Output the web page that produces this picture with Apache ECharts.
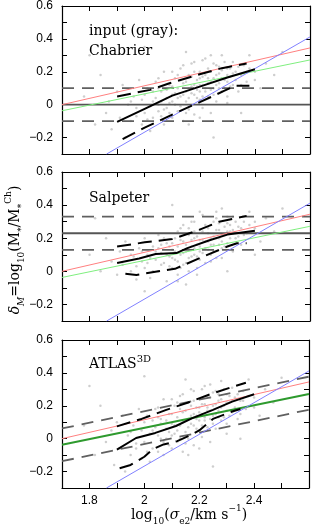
<!DOCTYPE html>
<html><head><meta charset="utf-8">
<script src="https://cdn.jsdelivr.net/npm/echarts@6/dist/echarts.min.js"></script>
<style>html,body{margin:0;padding:0;background:#fff}#c{width:312px;height:524px}</style>
</head><body><div id="c"></div>
<script>
// ---- axis ranges & tick labels ----
const xRange = [1.7, 2.6];
const yRange = [-0.3, 0.6];
const xTickLabels = ['1.8', '2', '2.2', '2.4'];
const yTickLabels = ['−0.2', '0', '0.2', '0.4', '0.6'];

// ---- model lines (same in all panels) ----
const redLine = [[1.7, 0.0], [2.6, 0.345]];
const greenLine = [[1.7, -0.037], [2.6, 0.272]];
const blueLine = [[1.862, -0.3], [2.6, 0.412]];

// ---- reference levels ----
const p1Levels = { solid: 0.0, dashed: [-0.1, 0.1] };
const p2Levels = { solid: 0.23, dashed: [0.13, 0.33] };
const p3DashUpper = [[1.7, 0.062], [2.6, 0.377]];
const p3DashLower = [[1.7, -0.137], [2.6, 0.176]];

// ---- panel 1: Chabrier ----
const p1Median = [[1.9,-0.105],[2.0,-0.025],[2.1,0.055],[2.2,0.11],[2.3,0.165],[2.4,0.215]];
const p1Upper = [[1.9,0.05],[2.02,0.09],[2.09,0.13],[2.2,0.185],[2.28,0.222],[2.37,0.25]];
const p1Lower = [[1.92,-0.21],[2.0,-0.14],[2.1,-0.06],[2.2,0.015],[2.29,0.085],[2.33,0.115],[2.38,0.115]];
const p1Points = [[1.78,0.05],[1.82,-0.12],[1.84,0.18],[1.86,-0.05],[1.87,0.02],[1.88,-0.15],[1.9,0.08],[1.91,-0.08],[1.92,0.12],[1.93,-0.2],[1.94,0.0],[1.95,-0.1],[1.96,0.05],[1.97,-0.02],[1.98,0.15],[1.99,-0.12],[2.0,0.06],[2.0,-0.05],[2.01,0.1],[2.02,-0.16],[2.03,0.02],[2.03,-0.08],[2.04,0.14],[2.05,0.0],[2.05,-0.04],[2.06,0.08],[2.07,-0.12],[2.07,0.2],[2.08,0.04],[2.08,-0.02],[2.09,0.12],[2.1,-0.08],[2.1,0.06],[2.11,0.16],[2.11,0.0],[2.12,0.1],[2.12,-0.04],[2.13,0.22],[2.13,0.05],[2.14,-0.1],[2.14,0.13],[2.15,0.08],[2.15,0.02],[2.16,0.18],[2.16,-0.03],[2.17,0.11],[2.17,0.25],[2.18,0.06],[2.18,-0.06],[2.19,0.15],[2.19,0.09],[2.2,0.2],[2.2,0.03],[2.2,0.12],[2.21,-0.02],[2.21,0.17],[2.22,0.08],[2.22,0.28],[2.23,0.13],[2.23,0.05],[2.24,0.2],[2.24,-0.05],[2.25,0.1],[2.25,0.16],[2.26,0.24],[2.26,0.02],[2.27,0.13],[2.27,0.19],[2.28,0.08],[2.28,0.3],[2.29,0.15],[2.3,0.22],[2.3,0.05],[2.31,0.17],[2.32,0.12],[2.32,0.26],[2.33,0.2],[2.34,0.08],[2.35,0.18],[2.36,0.24],[2.37,0.14],[2.38,0.3],[2.4,0.2],[2.42,0.1],[2.44,0.25],[2.47,0.18],[2.5,0.32],[1.8,0.3],[2.0,0.35],[2.25,-0.2],[2.15,0.32],[2.35,-0.05],
[2.02,-0.01],[2.04,0.04],[2.06,0.02],[2.06,-0.07],[2.08,0.09],[2.09,0.01],[2.1,0.11],[2.1,0.02],[2.11,0.07],[2.12,0.04],[2.13,0.15],[2.13,-0.01],[2.14,0.06],[2.15,0.14],[2.15,-0.05],[2.16,0.1],[2.16,0.04],[2.17,0.07],[2.17,0.17],[2.18,0.12],[2.18,0.2],[2.19,0.04],[2.19,0.11],[2.2,0.16],[2.2,0.08],[2.21,0.05],[2.21,0.12],[2.22,0.18],[2.22,0.1],[2.23,0.22],[2.23,0.16],[2.24,0.09],[2.24,0.14],[2.25,0.06],[2.25,0.25],[2.26,0.12],[2.26,0.18],[2.27,0.1],[2.27,0.23],[2.28,0.16],[2.28,0.21],[2.29,0.1],[2.29,0.26],[2.3,0.14],[2.3,0.18],[2.31,0.11],[2.31,0.22],[2.32,0.19],[2.33,0.15],[2.34,0.23],[2.35,0.12],[2.36,0.19],[2.38,0.22],[2.4,0.15],[1.95,0.02],[1.97,-0.07],[1.99,0.03],[2.01,-0.09],[2.03,0.08],[2.05,0.1],[2.07,-0.03],[2.09,-0.05],[2.12,0.18],[2.14,0.24],[2.18,0.26],[2.21,0.27],[2.24,0.3],[2.2,-0.08],[2.16,-0.12],[2.3,0.01],[2.1,0.2],[2.05,0.16]];

// ---- panel 2: Salpeter ----
const p2Median = [[1.9,0.05],[1.98,0.077],[2.04,0.105],[2.115,0.11],[2.155,0.14],[2.23,0.185],[2.3,0.222],[2.4,0.245]];
const p2Upper = [[1.9,0.15],[2.0,0.175],[2.1,0.195],[2.19,0.245],[2.27,0.3],[2.37,0.335]];
const p2Lower = [[1.93,-0.015],[1.97,-0.022],[2.05,0.0],[2.11,0.015],[2.2,0.08],[2.3,0.15],[2.335,0.17],[2.37,0.17]];
const p2Points = [[1.8,0.1],[1.84,0.0],[1.86,0.2],[1.88,0.06],[1.9,-0.02],[1.91,0.12],[1.92,0.04],[1.93,0.18],[1.95,0.0],[1.96,0.09],[1.97,-0.05],[1.98,0.14],[1.99,0.06],[2.0,0.2],[2.0,0.02],[2.01,0.1],[2.02,-0.04],[2.03,0.15],[2.04,0.07],[2.05,0.22],[2.05,0.0],[2.06,0.11],[2.07,0.05],[2.08,0.17],[2.08,-0.06],[2.09,0.09],[2.1,0.13],[2.1,0.02],[2.11,0.2],[2.11,0.07],[2.12,-0.02],[2.12,0.15],[2.13,0.1],[2.13,0.26],[2.14,0.04],[2.14,0.18],[2.15,0.12],[2.15,-0.08],[2.16,0.22],[2.16,0.08],[2.17,0.15],[2.17,0.3],[2.18,0.1],[2.18,0.2],[2.19,0.02],[2.19,0.16],[2.2,0.25],[2.2,0.12],[2.2,0.07],[2.21,0.19],[2.21,0.34],[2.22,0.14],[2.22,0.05],[2.23,0.23],[2.23,0.18],[2.24,0.1],[2.24,0.28],[2.25,0.16],[2.25,0.21],[2.26,0.08],[2.26,0.32],[2.27,0.2],[2.27,0.25],[2.28,0.14],[2.28,0.38],[2.29,0.22],[2.3,0.17],[2.3,0.29],[2.31,0.24],[2.32,0.12],[2.32,0.33],[2.33,0.2],[2.34,0.27],[2.35,0.16],[2.36,0.3],[2.37,0.23],[2.38,0.36],[2.4,0.26],[2.42,0.18],[2.44,0.32],[2.47,0.24],[2.5,0.38],[1.82,0.32],[2.0,-0.12],[2.3,0.0],[2.1,0.4],[2.4,0.1],
[2.02,0.08],[2.04,0.12],[2.06,0.04],[2.06,0.16],[2.08,0.1],[2.09,0.03],[2.1,0.17],[2.1,0.08],[2.11,0.12],[2.12,0.06],[2.13,0.19],[2.13,0.02],[2.14,0.11],[2.15,0.16],[2.15,0.05],[2.16,0.13],[2.16,0.26],[2.17,0.09],[2.17,0.19],[2.18,0.14],[2.18,0.24],[2.19,0.09],[2.19,0.21],[2.2,0.15],[2.2,0.19],[2.21,0.11],[2.21,0.24],[2.22,0.18],[2.22,0.28],[2.23,0.13],[2.23,0.26],[2.24,0.2],[2.24,0.16],[2.25,0.12],[2.25,0.3],[2.26,0.2],[2.26,0.25],[2.27,0.16],[2.27,0.29],[2.28,0.22],[2.28,0.18],[2.29,0.27],[2.29,0.15],[2.3,0.24],[2.3,0.33],[2.31,0.2],[2.31,0.28],[2.32,0.25],[2.33,0.3],[2.34,0.21],[2.35,0.26],[2.36,0.22],[2.38,0.28],[2.4,0.3],[1.95,0.1],[1.97,0.03],[1.99,0.12],[2.01,0.05],[2.03,0.0],[2.05,0.14],[2.07,0.2],[2.09,0.15],[2.12,0.24],[2.14,0.28],[2.18,0.3],[2.2,0.36],[2.24,0.06],[2.19,-0.02],[2.16,0.0],[2.28,0.08],[2.12,-0.06],[2.26,0.36]];

// ---- panel 3: ATLAS3D ----
const p3Median = [[1.9,-0.067],[1.97,0.004],[2.04,0.035],[2.115,0.077],[2.175,0.125],[2.25,0.175],[2.32,0.225],[2.4,0.27]];
const p3Upper = [[1.9,0.075],[1.99,0.12],[2.08,0.175],[2.16,0.22],[2.24,0.27],[2.33,0.32],[2.37,0.34]];
const p3Lower = [[1.91,-0.18],[1.95,-0.16],[2.0,-0.11],[2.03,-0.065],[2.07,-0.035],[2.12,-0.015],[2.16,0.015],[2.2,0.05],[2.25,0.12],[2.32,0.165],[2.35,0.18]];
const p3Points = [[1.78,0.08],[1.82,-0.1],[1.84,0.2],[1.86,-0.02],[1.88,0.05],[1.89,-0.16],[1.9,0.1],[1.91,-0.06],[1.92,0.14],[1.93,-0.2],[1.94,0.02],[1.95,-0.1],[1.96,0.08],[1.97,-0.03],[1.98,0.18],[1.99,-0.12],[2.0,0.1],[2.0,-0.02],[2.01,0.14],[2.02,-0.14],[2.03,0.05],[2.03,-0.06],[2.04,0.18],[2.05,0.02],[2.05,-0.08],[2.06,0.12],[2.07,-0.1],[2.07,0.24],[2.08,0.06],[2.08,0.0],[2.09,0.15],[2.1,-0.06],[2.1,0.09],[2.11,0.2],[2.11,0.03],[2.12,0.13],[2.12,-0.02],[2.13,0.26],[2.13,0.08],[2.14,-0.08],[2.14,0.16],[2.15,0.11],[2.15,0.04],[2.16,0.22],[2.16,0.0],[2.17,0.14],[2.17,0.3],[2.18,0.08],[2.18,-0.04],[2.19,0.19],[2.19,0.12],[2.2,0.24],[2.2,0.05],[2.2,0.16],[2.21,0.01],[2.21,0.21],[2.22,0.11],[2.22,0.32],[2.23,0.17],[2.23,0.07],[2.24,0.25],[2.24,-0.02],[2.25,0.14],[2.25,0.2],[2.26,0.29],[2.26,0.06],[2.27,0.17],[2.27,0.23],[2.28,0.11],[2.28,0.35],[2.29,0.2],[2.3,0.27],[2.3,0.09],[2.31,0.22],[2.32,0.16],[2.32,0.31],[2.33,0.25],[2.34,0.12],[2.35,0.23],[2.36,0.29],[2.37,0.18],[2.38,0.36],[2.4,0.25],[2.42,0.14],[2.44,0.3],[2.47,0.22],[2.5,0.37],[1.8,0.32],[2.0,0.38],[2.25,-0.17],[2.15,0.36],[2.35,0.0],
[2.02,0.03],[2.04,0.07],[2.06,0.0],[2.06,0.09],[2.08,0.11],[2.09,0.04],[2.1,0.15],[2.1,0.02],[2.11,0.08],[2.12,0.05],[2.13,0.18],[2.13,0.0],[2.14,0.1],[2.15,0.17],[2.15,-0.03],[2.16,0.12],[2.16,0.07],[2.17,0.09],[2.17,0.2],[2.18,0.15],[2.18,0.23],[2.19,0.06],[2.19,0.14],[2.2,0.19],[2.2,0.11],[2.21,0.08],[2.21,0.15],[2.22,0.21],[2.22,0.13],[2.23,0.26],[2.23,0.19],[2.24,0.12],[2.24,0.17],[2.25,0.09],[2.25,0.28],[2.26,0.15],[2.26,0.21],[2.27,0.13],[2.27,0.27],[2.28,0.19],[2.28,0.24],[2.29,0.13],[2.29,0.3],[2.3,0.17],[2.3,0.22],[2.31,0.14],[2.31,0.26],[2.32,0.23],[2.33,0.19],[2.34,0.27],[2.35,0.15],[2.36,0.23],[2.38,0.26],[2.4,0.19],[1.95,0.04],[1.97,-0.06],[1.99,0.05],[2.01,-0.08],[2.03,0.11],[2.05,0.13],[2.07,-0.02],[2.09,-0.04],[2.12,0.22],[2.14,0.27],[2.18,0.29],[2.21,0.3],[2.24,0.33],[2.2,-0.06],[2.16,-0.1],[2.3,0.03],[2.1,0.24],[2.05,0.19]];

// ---- build chart ----
const chart = echarts.init(document.getElementById('c'), null, {renderer: 'canvas'});
const gridTops = [5, 172, 340];
const gridHeights = [149, 149, 148];
const SERIF = 'DejaVu Serif';
const SANS = 'Liberation Sans';

function fmtNum(v) {
  const r = Math.round(v * 10) / 10;
  return r < 0 ? '−' + String(+(-r).toFixed(1)) : String(+r.toFixed(1));
}
const grid = [], xAxis = [], yAxis = [], series = [];
const tickStyle = {show: true, inside: true, length: 5, lineStyle: {color: '#000', width: 1}};
const lineAx = {show: true, onZero: false, lineStyle: {color: '#000', width: 1.2}};
gridTops.forEach((t, i) => {
  grid.push({left: 62, top: t, width: 248, height: gridHeights[i]});
  const xBase = {gridIndex: i, type: 'value', min: xRange[0], max: xRange[1], interval: 0.1,
    axisLine: lineAx, axisTick: tickStyle, splitLine: {show: false}};
  xAxis.push(Object.assign({}, xBase, {position: 'bottom', axisLabel: {show: i === 2, margin: 7, color: '#000',
    fontFamily: SANS, fontSize: 12, formatter: v => { const s = fmtNum(v); return xTickLabels.includes(s) ? s : ''; }}}));
  xAxis.push(Object.assign({}, xBase, {position: 'top', axisLabel: {show: false}}));
  const yBase = {gridIndex: i, type: 'value', min: yRange[0], max: yRange[1], interval: 0.1,
    axisLine: lineAx, axisTick: tickStyle, splitLine: {show: false}};
  yAxis.push(Object.assign({}, yBase, {position: 'left', axisLabel: {show: true, margin: 9, color: '#000',
    fontFamily: SANS, fontSize: 12, formatter: v => { const s = fmtNum(v); return yTickLabels.includes(s) ? s : ''; }}}));
  yAxis.push(Object.assign({}, yBase, {position: 'right', axisLabel: {show: false}}));
});

function ln(gi, data, color, width, type, z) {
  return {type: 'line', xAxisIndex: gi * 2, yAxisIndex: gi * 2, data, symbol: 'none', silent: true,
    animation: false, z, lineStyle: {color, width, type: type || 'solid', cap: 'butt'}};
}
function sc(gi, data) {
  return {type: 'scatter', xAxisIndex: gi * 2, yAxisIndex: gi * 2, data, symbolSize: 2.5, silent: true,
    animation: false, z: 1, itemStyle: {color: 'rgba(120,120,120,0.45)'}};
}
const hl = v => [[xRange[0], v], [xRange[1], v]];
const GRAYDASH = [12, 8];
const BLKDASH = [14, 7];

const panels = [
  {pts: p1Points, med: p1Median, up: p1Upper, lo: p1Lower, lev: p1Levels},
  {pts: p2Points, med: p2Median, up: p2Upper, lo: p2Lower, lev: p2Levels},
  {pts: p3Points, med: p3Median, up: p3Upper, lo: p3Lower, lev: null}
];
panels.forEach((p, i) => {
  series.push(sc(i, p.pts));
  if (p.lev) {
    series.push(ln(i, hl(p.lev.solid), '#555', 1.8, 'solid', 2));
    p.lev.dashed.forEach(v => series.push(ln(i, hl(v), '#606060', 1.8, GRAYDASH, 2)));
  } else {
    series.push(ln(i, p3DashUpper, '#606060', 1.8, GRAYDASH, 2));
    series.push(ln(i, p3DashLower, '#606060', 1.8, GRAYDASH, 2));
  }
  series.push(ln(i, redLine, '#ff8080', 1, 'solid', 3));
  if (i === 2) series.push(ln(i, greenLine, '#2e9a2e', 2, 'solid', 3));
  else series.push(ln(i, greenLine, '#7fef7f', 1, 'solid', 3));
  series.push(ln(i, blueLine, '#8080ff', 1, 'solid', 3));
  series.push(ln(i, p.med, '#000', 2, 'solid', 4));
  series.push(ln(i, p.up, '#000', 2, BLKDASH, 4));
  series.push(ln(i, p.lo, '#000', 2, BLKDASH, 4));
});

const richBase = {
  n: {fontFamily: SERIF, fontSize: 14, lineHeight: 22, color: '#000'},
  i: {fontFamily: SERIF, fontSize: 14, lineHeight: 22, fontStyle: 'italic', color: '#000'},
  sub: {fontFamily: SERIF, fontSize: 9, verticalAlign: 'bottom', color: '#000'},
  isub: {fontFamily: SERIF, fontSize: 9, verticalAlign: 'bottom', fontStyle: 'italic', color: '#000'},
  sup: {fontFamily: SERIF, fontSize: 9, verticalAlign: 'top', color: '#000'},
  l: {fontFamily: SERIF, fontSize: 14, lineHeight: 20, color: '#000'},
  lsup: {fontFamily: SERIF, fontSize: 10, verticalAlign: 'top', color: '#000'}
};
function txt(x, y, text, extra) {
  return Object.assign({type: 'text', x, y, silent: true,
    style: {text, rich: richBase, align: 'left', verticalAlign: 'middle', textAlign: 'left', textVerticalAlign: 'middle'}}, extra || {});
}
const graphic = [
  txt(89, 31, '{l|input (gray):}'),
  txt(89, 51, '{l|Chabrier}'),
  txt(89, 198, '{l|Salpeter}'),
  txt(89, 364, '{l|ATLAS}{lsup|3D}'),
  {type: 'text', x: 189, y: 515, silent: true, style: {text: '{n|log}{sub|10}{n|(}{i|σ}{sub|e2}{n|/km s}{sup|−1}{n|)}',
    rich: richBase, align: 'center', verticalAlign: 'middle', textAlign: 'center', textVerticalAlign: 'middle'}},
  {type: 'text', x: 15, y: 250, rotation: Math.PI / 2, silent: true, style: {
    text: '{i|δ}{isub|M}{n|=log}{sub|10}{n|(M}{sub|*}{n|/M}{sub|*}{sup|Ch}{n|)}',
    rich: richBase, align: 'center', verticalAlign: 'middle', textAlign: 'center', textVerticalAlign: 'middle'}}
];

chart.setOption({animation: false, backgroundColor: '#fff', grid, xAxis, yAxis, series, graphic});
</script></body></html>
